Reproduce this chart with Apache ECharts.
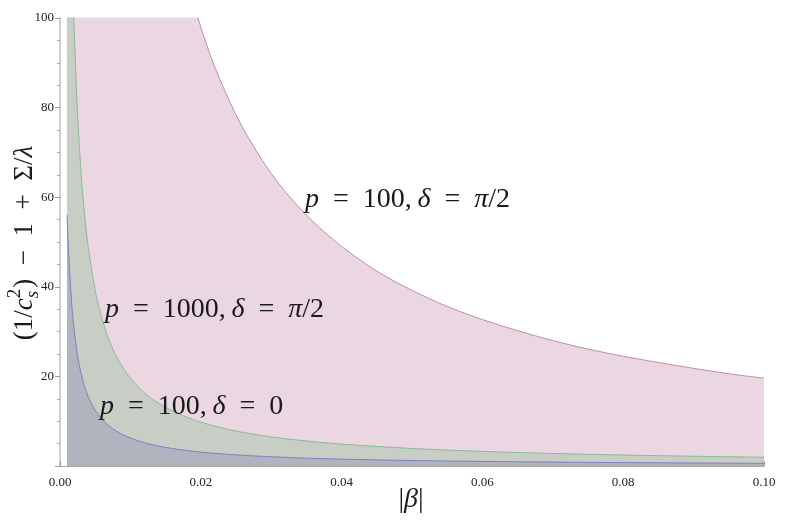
<!DOCTYPE html>
<html>
<head>
<meta charset="utf-8">
<script src="https://cdn.jsdelivr.net/npm/echarts@6/dist/echarts.min.js"></script>
<style>
  html, body { margin: 0; padding: 0; background: #fff; }
  #chart { width: 790px; height: 529px; }
</style>
</head>
<body>
<div id="chart"></div>
<script>
// |beta| sample points (shared by the three boundaries)
var beta = [0.001, 0.0012, 0.0014, 0.0017, 0.002, 0.0025, 0.003, 0.0035, 0.004, 0.005,
  0.006, 0.007, 0.008, 0.009, 0.010, 0.012, 0.014, 0.016, 0.018, 0.020,
  0.022, 0.025, 0.0275, 0.030, 0.0325, 0.035, 0.0375, 0.040, 0.045, 0.050,
  0.055, 0.060, 0.065, 0.070, 0.075, 0.080, 0.085, 0.090, 0.095, 0.100];

// p = 100, delta = pi/2 (pink, above the top of the plot left of ~0.02)
var p100Half = [1960, 1630, 1400, 1150, 980, 784, 653, 560, 490, 392,
  327, 280, 245, 218, 196, 163, 140, 122.5, 109, 98,
  89, 78.4, 71.3, 65.3, 60.3, 56, 52.3, 49, 43.5, 39.2,
  35.6, 32.7, 30.2, 28, 26.1, 24.5, 23.1, 21.8, 20.6, 19.6];

// p = 1000, delta = pi/2 (green)
var p1000Half = [196, 163, 140, 115, 98, 78.4, 65.3, 56, 49, 39.2,
  32.7, 28, 24.5, 21.8, 19.6, 16.3, 14, 12.3, 10.9, 9.8,
  8.9, 7.8, 7.1, 6.5, 6.0, 5.6, 5.2, 4.9, 4.36, 3.92,
  3.56, 3.27, 3.02, 2.8, 2.61, 2.45, 2.31, 2.18, 2.06, 1.96];

// p = 100, delta = 0 (blue)
var p100Zero = [56, 48.5, 42.5, 35.5, 30.5, 24.6, 20.6, 17.7, 15.5, 12.4,
  10.4, 8.9, 7.8, 6.9, 6.25, 5.2, 4.45, 3.9, 3.45, 3.1,
  2.82, 2.48, 2.25, 2.06, 1.9, 1.76, 1.64, 1.53, 1.36, 1.22,
  1.11, 1.02, 0.94, 0.87, 0.81, 0.76, 0.71, 0.67, 0.63, 0.6];

var xTickLabels = ["0.00", "0.02", "0.04", "0.06", "0.08", "0.10"];
var yTickLabels = ["", "20", "40", "60", "80", "100"];

var curveNames = ["p = 100, δ = π/2", "p = 1000, δ = π/2", "p = 100, δ = 0"];

function pairs(ys) {
  return beta.map(function (b, i) { return [b, ys[i]]; });
}

var serif = '"Liberation Serif", "DejaVu Serif", serif';
var ink = "#1a1a1a";
var EQ = "\u2002=\u2002";

// math-ish label: italic letters, upright digits
function mathLabel(x, y, parts) {
  return {
    type: "text",
    x: x,
    y: y,
    z: 100,
    silent: true,
    style: {
      text: parts.map(function (p) { return p[1] ? "{i|" + p[0] + "}" : "{r|" + p[0] + "}"; }).join(""),
      textVerticalAlign: "middle",
      rich: {
        i: { fontFamily: serif, fontStyle: "italic", fontSize: 28, fill: ink },
        r: { fontFamily: serif, fontSize: 28, fill: ink }
      }
    }
  };
}

// y axis name, built piece by piece and rotated
var ctx = document.createElement("canvas").getContext("2d");
function tw(t, font) { ctx.font = font; return ctx.measureText(t).width; }
var F = 27;
var fUp = F + "px " + serif, fIt = "italic " + F + "px " + serif;
var fSm = "19px " + serif, fSmIt = "italic 19px " + serif;
var yName = [];
var cx = 0;
function put(t, font, dy) {
  yName.push({ type: "text", x: cx, y: dy || 0, silent: true,
    style: { text: t, font: font, fill: ink, textVerticalAlign: "middle" } });
  cx += tw(t, font);
}
put("(1/", fUp);
put("c", fIt);
var cxs = cx;
put("2", fSm, -10);
var w2 = cx;
cx = cxs;
put("s", fSmIt, 8);
cx = Math.max(w2, cx) + 1;
put(")\u2002\u2212\u20021\u2002+\u2002\u03a3/", fUp);
put("\u03bb", fIt);
var yNameW = cx;

var chart = echarts.init(document.getElementById("chart"));
chart.setOption({
  animation: false,
  grid: { left: 60, right: 26, top: 18, bottom: 63 },
  xAxis: {
    type: "value", min: 0, max: 0.1, interval: 0.02,
    axisLine: { show: true, lineStyle: { color: "#a8a89a", width: 1 } },
    axisTick: { show: true, inside: true, length: 5, lineStyle: { color: "#999" } },
    minorTick: { show: true, splitNumber: 4, length: 3, lineStyle: { color: "#aaa" } },
    splitLine: { show: false },
    axisLabel: {
      color: "#222", fontFamily: serif, fontSize: 13, margin: 10,
      formatter: function (v) { return xTickLabels[Math.round(v / 0.02)]; }
    }
  },
  yAxis: {
    type: "value", min: 0, max: 100, interval: 20,
    axisLine: { show: true, lineStyle: { color: "#d0d0d0", width: 2 } },
    axisTick: { show: true, length: 5, lineStyle: { color: "#999" } },
    minorTick: { show: true, splitNumber: 4, length: 3, lineStyle: { color: "#aaa" } },
    splitLine: { show: false },
    axisLabel: {
      color: "#222", fontFamily: serif, fontSize: 13, margin: 6,
      formatter: function (v) { return yTickLabels[Math.round(v / 20)]; }
    }
  },
  series: [
    {
      name: curveNames[0], type: "line", data: pairs(p100Half), showSymbol: false,
      smooth: 0.3, clip: true,
      lineStyle: { color: "#c48aae", width: 1 },
      areaStyle: { color: "#ebd7e2", opacity: 1 }, z: 1
    },
    {
      name: curveNames[1], type: "line", data: pairs(p1000Half), showSymbol: false,
      smooth: 0.3, clip: true,
      lineStyle: { color: "#84bd93", width: 1 },
      areaStyle: { color: "#c8cdc6", opacity: 1 }, z: 2
    },
    {
      name: curveNames[2], type: "line", data: pairs(p100Zero), showSymbol: false,
      smooth: 0.3, clip: true,
      lineStyle: { color: "#7c80c2", width: 1 },
      areaStyle: { color: "#b1b3be", opacity: 1 }, z: 3
    }
  ],
  graphic: [
    mathLabel(305, 200, [["p", 1], [EQ + "100,\u2009", 0], ["δ", 1], [EQ, 0], ["π", 1], ["/2", 0]]),
    mathLabel(105, 310, [["p", 1], [EQ + "1000,\u2009", 0], ["δ", 1], [EQ, 0], ["π", 1], ["/2", 0]]),
    mathLabel(100, 407, [["p", 1], [EQ + "100,\u2009", 0], ["δ", 1], [EQ + "0", 0]]),
    {
      type: "text", x: 411, y: 500, z: 100, silent: true,
      style: { text: "|{i|β}|", font: "28px " + serif, fill: ink, textAlign: "center", textVerticalAlign: "middle",
        rich: { i: { fontFamily: serif, fontStyle: "italic", fontSize: 28, fill: ink } } }
    },
    {
      type: "group", x: 25, y: 243 + yNameW / 2, rotation: Math.PI / 2, z: 100,
      children: yName
    }
  ]
});
</script>
</body>
</html>
